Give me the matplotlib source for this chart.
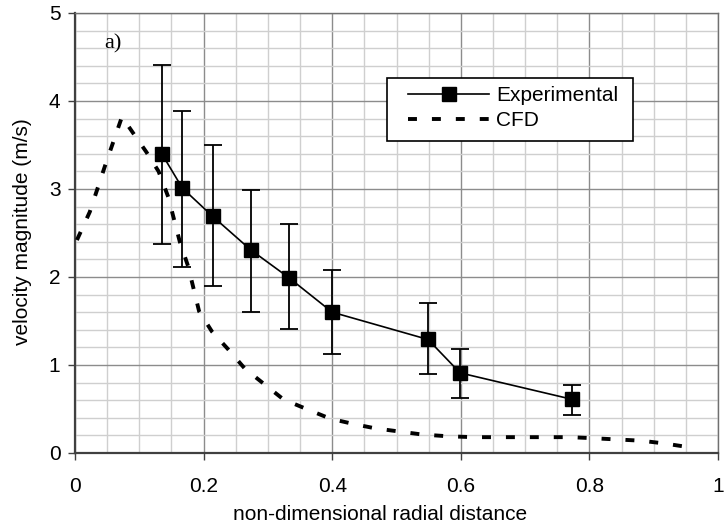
import matplotlib
matplotlib.use("Agg")
import matplotlib.pyplot as plt
from matplotlib.ticker import MultipleLocator
from matplotlib.patches import Rectangle

plt.rcParams['font.family'] = ['Liberation Sans', 'DejaVu Sans']

# Experimental data
exp_x = [0.135, 0.167, 0.214, 0.273, 0.333, 0.400, 0.549, 0.599, 0.773]
exp_y = [3.40, 3.01, 2.69, 2.31, 1.99, 1.60, 1.29, 0.91, 0.61]
exp_lo = [2.38, 2.11, 1.90, 1.60, 1.41, 1.12, 0.90, 0.63, 0.43]
exp_hi = [4.41, 3.89, 3.50, 2.99, 2.60, 2.08, 1.70, 1.18, 0.77]

# CFD data
cfd_x = [0.003, 0.023, 0.047, 0.073, 0.090, 0.111, 0.130, 0.145, 0.163, 0.176,
         0.193, 0.213, 0.238, 0.264, 0.293, 0.324, 0.360, 0.397, 0.433, 0.467,
         0.540, 0.580, 0.620, 0.770, 0.800, 0.840, 0.880, 0.915, 0.960]
cfd_y = [2.42, 2.74, 3.27, 3.82, 3.64, 3.42, 3.20, 2.91, 2.40, 2.12,
         1.61, 1.38, 1.18, 0.96, 0.79, 0.61, 0.50, 0.39, 0.33, 0.28,
         0.21, 0.19, 0.18, 0.18, 0.17, 0.155, 0.14, 0.11, 0.06]

x_ticks = [0, 0.2, 0.4, 0.6, 0.8, 1]
x_ticklabels = ["0", "0.2", "0.4", "0.6", "0.8", "1"]
y_ticks = [0, 1, 2, 3, 4, 5]

W, H = 724, 532
fig = plt.figure(figsize=(W / 100, H / 100), dpi=100)
ax = fig.add_axes([75 / W, 1 - 453 / H, (718 - 75) / W, (453 - 13) / H])

ax.set_xlim(0, 1)
ax.set_ylim(0, 5)
ax.set_xticks(x_ticks)
ax.set_xticklabels(x_ticklabels)
ax.set_yticks(y_ticks)
ax.xaxis.set_minor_locator(MultipleLocator(0.05))
ax.yaxis.set_minor_locator(MultipleLocator(0.2))
ax.grid(which='major', color='#8c8c8c', linewidth=1.0)
ax.grid(which='minor', color='#cfcfcf', linewidth=1.0)
ax.set_axisbelow(True)
ax.tick_params(which='minor', length=0)
ax.tick_params(which='major', direction='out', length=5, width=1.0, color='#404040',
               labelsize=15)
ax.tick_params(axis='x', pad=12)
ax.tick_params(axis='y', pad=5.5)

for s in ['left', 'bottom']:
    ax.spines[s].set_color('#404040')
    ax.spines[s].set_linewidth(1.6)
for s in ['top', 'right']:
    ax.spines[s].set_color('#707070')
    ax.spines[s].set_linewidth(1.0)

yerr = [[y - lo for y, lo in zip(exp_y, exp_lo)], [hi - y for y, hi in zip(exp_y, exp_hi)]]
ax.errorbar(exp_x, exp_y, yerr=yerr, fmt='none', ecolor='black', elinewidth=1.3,
            capsize=6.5, capthick=1.3, zorder=3)
ax.plot(exp_x, exp_y, color='black', linewidth=1.2, marker='s', markersize=10,
        markerfacecolor='black', markeredgecolor='black', label='Experimental', zorder=4)
ax.plot(cfd_x, cfd_y, color='black', linewidth=2.8, linestyle=(0, (2.3, 3.85)),
        dash_capstyle='butt', label='CFD', zorder=3)

ax.set_xlabel('non-dimensional radial distance', fontsize=15)
ax.xaxis.set_label_coords((380 - 75) / 643, (453 - 514) / 440)
ax.xaxis.label.set_va('center')
ax.set_ylabel('velocity magnitude (m/s)', fontsize=15)
ax.yaxis.set_label_coords((23 - 75) / 643, (453 - 232) / 440)
ax.yaxis.label.set_va('center')

ax.text(0.045, 4.6, 'a)', fontsize=16, family='Liberation Serif')

# legend frame
frame = Rectangle((387 / W, 1 - 141 / H), (633 - 387) / W, (141 - 78) / H,
                  transform=fig.transFigure, facecolor='white', edgecolor='black',
                  linewidth=1.2, zorder=5, clip_on=False)
ax.add_patch(frame)

leg = ax.legend(loc='upper left', bbox_to_anchor=(408 / W, 1 - 86 / H),
                bbox_transform=fig.transFigure,
                fontsize=15, handlelength=3.9, handletextpad=0.34, borderpad=0,
                labelspacing=0.31, frameon=False, borderaxespad=0)
leg.set_zorder(6)

fig.savefig('out.png', dpi=100)
